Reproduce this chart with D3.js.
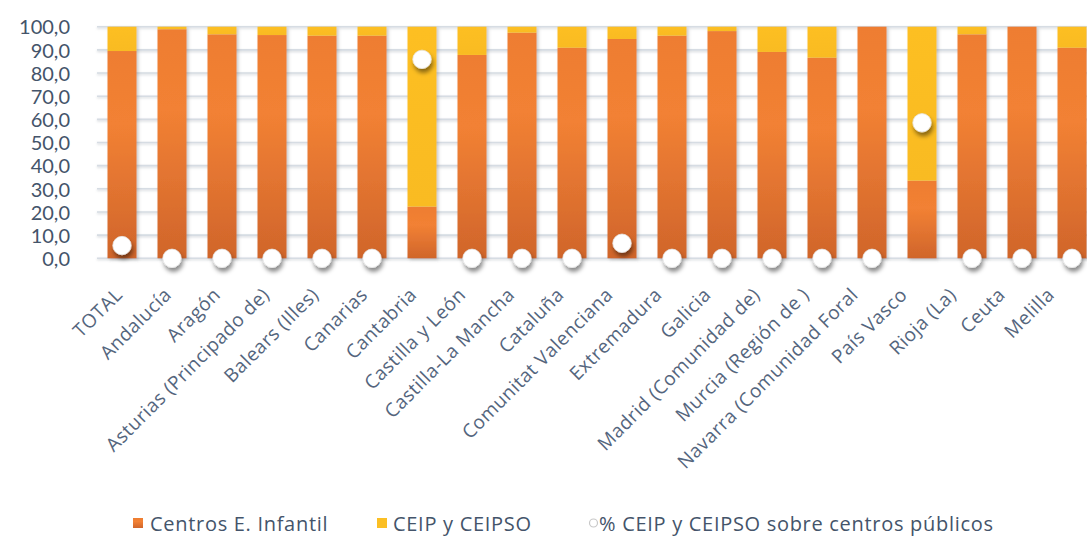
<!DOCTYPE html>
<html lang="es">
<head>
<meta charset="utf-8">
<script src="https://cdn.jsdelivr.net/npm/d3@7"></script>
<style>
  html, body { margin: 0; padding: 0; background: #fff; }
  svg { display: block; }
</style>
</head>
<body>
<svg id="chart" width="1087" height="536"></svg>
<script>
// Comunidades autónomas (y total nacional)
const categories = [
  "TOTAL", "Andalucía", "Aragón", "Asturias (Principado de)", "Balears (Illes)",
  "Canarias", "Cantabria", "Castilla y León", "Castilla-La Mancha", "Cataluña",
  "Comunitat Valenciana", "Extremadura", "Galicia", "Madrid (Comunidad de)",
  "Murcia (Región de )", "Navarra (Comunidad Foral", "País Vasco", "Rioja (La)",
  "Ceuta", "Melilla"
];

// % de centros por tipo (suman 100 en cada comunidad)
const infantil = [89.5, 98.9, 96.7, 96.4, 96.1, 96.1, 22.3, 87.8, 97.4, 90.9,
                  94.7, 96.1, 98.1, 89.1, 86.6, 100.0, 33.5, 96.7, 100.0, 90.9];
const ceip =     [10.5, 1.1, 3.3, 3.6, 3.9, 3.9, 77.7, 12.2, 2.6, 9.1,
                  5.3, 3.9, 1.9, 10.9, 13.4, 0.0, 66.5, 3.3, 0.0, 9.1];

// % CEIP y CEIPSO sobre el total de centros públicos
const pctPublicos = [5.5, 0, 0, 0, 0, 0, 85.9, 0, 0, 0,
                     6.5, 0, 0, 0, 0, 0, 58.5, 0, 0, 0];

const seriesNames = ["Centros E. Infantil", "CEIP y CEIPSO", "% CEIP y CEIPSO sobre centros públicos"];
const yTicks = [0, 10, 20, 30, 40, 50, 60, 70, 80, 90, 100];

const labelFont = "'Open Sans', Lato, sans-serif";
const numberFont = "Lato, sans-serif";

const svg = d3.select("#chart");
const defs = svg.append("defs");

// Degradado naranja de cada segmento
const gOrange = defs.append("linearGradient").attr("id", "gradOrange")
  .attr("x1", 0).attr("y1", 0).attr("x2", 0).attr("y2", 1);
gOrange.append("stop").attr("offset", "0%").attr("stop-color", "#EE7D31");
gOrange.append("stop").attr("offset", "35%").attr("stop-color", "#F28134");
gOrange.append("stop").attr("offset", "100%").attr("stop-color", "#D0652B");

const gYellow = defs.append("linearGradient").attr("id", "gradYellow")
  .attr("x1", 0).attr("y1", 0).attr("x2", 0).attr("y2", 1);
gYellow.append("stop").attr("offset", "0%").attr("stop-color", "#FDBF24");
gYellow.append("stop").attr("offset", "100%").attr("stop-color", "#F9BB22");

const barShadow = defs.append("filter").attr("id", "barShadow")
  .attr("x", "-20%").attr("y", "-5%").attr("width", "150%").attr("height", "115%");
barShadow.append("feDropShadow").attr("dx", 2).attr("dy", 1.5)
  .attr("stdDeviation", 1.6).attr("flood-color", "#6b6b6b").attr("flood-opacity", 0.35);

const dotShadow = defs.append("filter").attr("id", "dotShadow")
  .attr("x", "-60%").attr("y", "-60%").attr("width", "220%").attr("height", "240%");
dotShadow.append("feDropShadow").attr("dx", 1.5).attr("dy", 4)
  .attr("stdDeviation", 2.2).attr("flood-color", "#000").attr("flood-opacity", 0.45);

const lineShadow = defs.append("filter").attr("id", "lineShadow")
  .attr("x", "-5%").attr("y", "-200%").attr("width", "110%").attr("height", "500%");
lineShadow.append("feDropShadow").attr("dx", 0).attr("dy", 1.2)
  .attr("stdDeviation", 0.8).attr("flood-color", "#9aa3ad").attr("flood-opacity", 0.45);

// Escalas
const x = d3.scaleBand().domain(categories).range([97, 1097])
  .paddingInner(0.42).paddingOuter(0.21);
const y = d3.scaleLinear().domain([0, 100]).range([258.3, 26.7]);
// Las etiquetas del eje de categorías siguen un paso ligeramente menor
const xLabel = d3.scalePoint().domain(categories).range([123, 1055]);

const esLocale = d3.formatLocale({ decimal: ",", thousands: ".", grouping: [3], currency: ["", " €"] });
const fmt = esLocale.format(".1f");

// Rejilla horizontal
svg.append("g").attr("filter", "url(#lineShadow)")
  .selectAll("line").data(yTicks).join("line")
  .attr("x1", 97).attr("x2", 1087)
  .attr("y1", d => y(d)).attr("y2", d => y(d))
  .attr("stroke", "#D6DCE3").attr("stroke-width", 1.6);

// Eje Y
const yAxis = d3.axisLeft(y).tickValues(yTicks).tickFormat(fmt).tickSize(0).tickPadding(0);
const gy = svg.append("g").attr("transform", "translate(70,0)").call(yAxis);
gy.select(".domain").remove();
gy.selectAll("text")
  .attr("fill", "#44546A").attr("dy", "0.36em")
  .style("font-size", "20px").style("font-family", numberFont);

// Barras apiladas
const stackData = categories.map((c, i) => ({ cat: c, infantil: infantil[i], ceip: ceip[i] }));
const stacked = d3.stack().keys(["infantil", "ceip"])(stackData);
const fills = { infantil: "url(#gradOrange)", ceip: "url(#gradYellow)" };

const gBars = svg.append("g").attr("filter", "url(#barShadow)");
stacked.forEach(layer => {
  gBars.append("g").selectAll("rect").data(layer.filter(d => d[1] - d[0] > 0)).join("rect")
    .attr("x", d => x(d.data.cat))
    .attr("width", x.bandwidth())
    .attr("y", d => y(d[1]))
    .attr("height", d => y(d[0]) - y(d[1]))
    .attr("fill", fills[layer.key]);
});

// Marcadores del porcentaje
svg.append("g").selectAll("circle").data(categories).join("circle")
  .attr("cx", d => x(d) + x.bandwidth() / 2)
  .attr("cy", (d, i) => y(pctPublicos[i]))
  .attr("r", 9.2)
  .attr("fill", "#ffffff")
  .attr("stroke", "#e6e6e6").attr("stroke-width", 0.8)
  .attr("filter", "url(#dotShadow)");

// Etiquetas de categoría giradas
const xAxis = d3.axisBottom(xLabel).tickSize(0).tickPadding(0);
const gx = svg.append("g").attr("transform", "translate(0,296)").call(xAxis);
gx.select(".domain").remove();
gx.selectAll("text")
  .attr("fill", "#54657D")
  .style("font-size", "19px").style("font-family", labelFont).style("letter-spacing", "0.5px")
  .attr("text-anchor", "end").attr("dy", 0).attr("y", 0)
  .attr("transform", "rotate(-45)");

// Leyenda
const legend = svg.append("g");
const legendX = [133, 377, 589];
const legendText = [150, 393, 599];
legend.append("rect").attr("x", legendX[0]).attr("y", 518).attr("width", 10).attr("height", 10)
  .attr("fill", "url(#gradOrange)");
legend.append("rect").attr("x", legendX[1]).attr("y", 518).attr("width", 10).attr("height", 10)
  .attr("fill", "#FBBF24");
legend.append("circle").attr("cx", legendX[2] + 4.5).attr("cy", 523).attr("r", 4)
  .attr("fill", "#fff").attr("stroke", "#c8c8c8").attr("stroke-width", 1.2);
legend.selectAll("text.lg").data(seriesNames).join("text")
  .attr("class", "lg")
  .attr("x", (d, i) => legendText[i]).attr("y", 531)
  .attr("fill", "#44546A")
  .style("font-size", "20px").style("font-family", labelFont).style("letter-spacing", "0.7px")
  .text(d => d);
</script>
</body>
</html>
